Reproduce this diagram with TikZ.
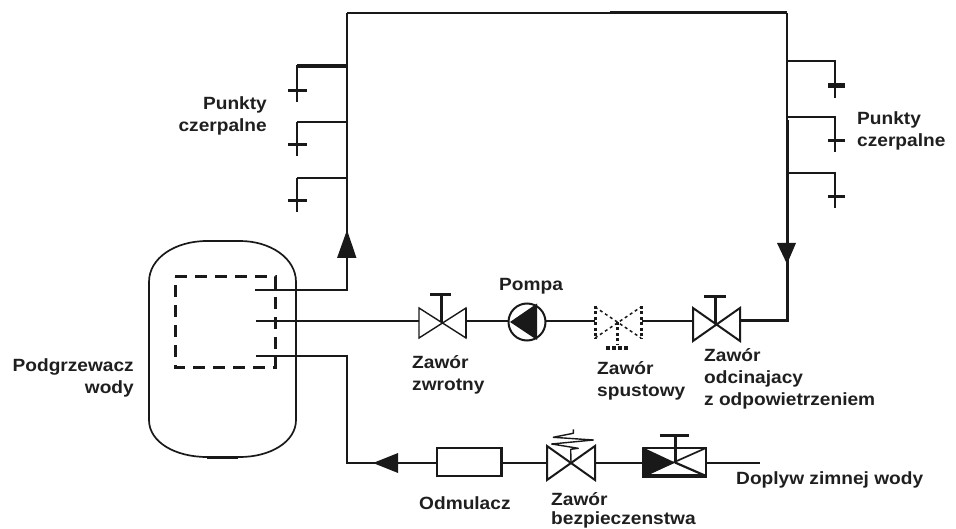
\documentclass[tikz,border=0pt]{standalone}
\usepackage{fontspec}
\setmainfont{Liberation Sans}[FakeStretch=1.08]
\tikzset{
  pipe/.style={draw=black!90,line width=1.7pt},
  thin pipe/.style={draw=black!90,line width=1.4pt},
  heavy/.style={draw=black!90,line width=3pt},
  lbl/.style={font=\fontsize{17.7}{22}\selectfont\bfseries,text=black!88,inner sep=0pt},
  tip/.style={fill=black!90,draw=none},
  valveline/.style={draw=black!90,line width=1.4pt,line join=miter},
}
\begin{document}
\begin{tikzpicture}[x=1pt,y=-1pt]
\useasboundingbox (0,0) rectangle (956,529);
% coordinates
\coordinate (topL) at (347,13);
\coordinate (topR) at (787,13);
\coordinate (retR) at (787,321);
\coordinate (outA) at (255,290);
\coordinate (outB) at (347,290);
\coordinate (inA) at (256,321);
\coordinate (coldA) at (256,356);
\coordinate (coldB) at (347,356);
\coordinate (coldC) at (347,463);
% tank
\draw[pipe] (149,282) .. controls (149,258) and (175,241) .. (207,241) -- (240,241) .. controls (270,241) and (296,258) .. (296,282)
  -- (296,420) .. controls (296,442) and (270,457) .. (240,457) -- (207,457) .. controls (175,457) and (149,442) .. (149,420) -- cycle;
\draw[draw=black!90,line width=3pt] (207,457) -- (238,457);
\draw[draw=black!90,line width=3pt,dash pattern=on 12pt off 8pt] (175,277) -- (275,277) -- (275,367) -- (175,367) -- cycle;
% main pipes
\draw[pipe] (outA) -- (outB) -- (topL);
\draw[pipe] (topL) -- (610,13);
\draw[heavy] (610,13) -- (topR);
\draw[pipe] (topR) -- (787,120);
\draw[heavy] (787,120) -- (retR) -- (741,321);
\draw[pipe] (inA) -- (419,321);
\draw[pipe] (466,321) -- (508,321);
\draw[pipe] (546,321) -- (595,321);
\draw[pipe] (642,321) -- (693,321);
\draw[pipe] (coldA) -- (coldB) -- (coldC) -- (437,463);
\draw[pipe] (502,463) -- (547,463);
\draw[pipe] (595,463) -- (643,463);
\draw[pipe] (706,463) -- (760,463);
% arrows
\fill[tip] (347,230) -- (356.5,258) -- (337,258) -- cycle;
\fill[tip] (787,264) -- (777,243) -- (796,243) -- cycle;
\fill[tip] (373,463) -- (398,453) -- (398,473) -- cycle;
% left draw-off points
\draw[heavy,line width=3.4pt] (347,66) -- (297,66);
\draw[pipe] (297,65) -- (297,102);
\draw[thin pipe] (347,122) -- (297,122);
\draw[pipe] (297,122) -- (297,156);
\draw[thin pipe] (347,178) -- (297,178);
\draw[pipe] (297,178) -- (297,212);
\foreach \y in {91,145,201} \draw[heavy,line width=3pt] (288,\y) -- (307,\y);
% right draw-off points
\draw[thin pipe] (787,61) -- (835,61) -- (835,98);
\draw[thin pipe] (787,117) -- (835,117) -- (835,152);
\draw[thin pipe] (787,173) -- (835,173) -- (835,208);
\draw[heavy,line width=5pt] (828,86) -- (845,86);
\draw[heavy] (828,141) -- (845,141);
\draw[heavy] (828,197) -- (845,197);
% non-return valve
\draw[valveline] (419,308) -- (466,338) -- (466,308) -- (419,338) -- cycle;
\draw[pipe] (466,308) -- (466,338);
\draw[heavy] (441.5,322) -- (441.5,295);
\draw[heavy] (430,295) -- (451,295);
% pump
\draw[pipe,line width=2pt] (527,322) circle (18.5);
\fill[tip] (510,322) -- (537,303.5) -- (537,340) -- cycle;
% drain valve (dotted)
\draw[draw=black!90,line width=1.5pt,dash pattern=on 3pt off 3pt] (595,307) -- (641,338);
\draw[draw=black!90,line width=1.5pt,dash pattern=on 3pt off 3pt] (595,338) -- (641,307);
\draw[draw=black!90,line width=3pt,dash pattern=on 3pt off 2.4pt] (595,306) -- (595,339);
\draw[draw=black!90,line width=3pt,dash pattern=on 3pt off 2.4pt] (641,306) -- (641,339);
\draw[draw=black!90,line width=2.6pt,dash pattern=on 3pt off 2.4pt] (617.5,322) -- (617.5,344);
\draw[draw=black!90,line width=4pt,dash pattern=on 4pt off 2pt] (606,348) -- (629,348);
% shut-off valve
\draw[valveline,line width=2pt] (693,308) -- (740,341) -- (740,308) -- (693,341) -- cycle;
\draw[heavy] (715,323) -- (715,297);
\draw[heavy] (704,297) -- (726,297);
% sludge separator
\draw[pipe] (437,448) rectangle (501,476);
\draw[heavy] (501,447) -- (501,477);
% safety valve
\draw[valveline,line width=2pt] (547,446) -- (595,480) -- (595,446) -- (547,480) -- cycle;
\draw[pipe] (595,446) -- (595,480);
\draw[draw=black!90,line width=1.4pt,line join=round] (571,463) -- (570.7,449.3) -- (578.3,448.3) -- (551.7,444) -- (593.3,440) -- (553.3,437.3) -- (573.3,433.3) -- (573.3,429.3);
% reducing/gate valve
\fill[tip] (642,447) -- (675,462.5) -- (642,478) -- cycle;
\draw[pipe] (643,448) -- (706,448) -- (706,476);
\draw[heavy,line width=3.4pt] (642,476) -- (707,476);
\draw[pipe] (643,476) -- (706,448);
\draw[pipe,line width=2.2pt] (675,462.5) -- (706,476);
\draw[heavy] (675,463) -- (675,436);
\draw[heavy] (660,435.3) -- (689,435.3);
% labels
\node[lbl,align=right,anchor=north east] at (267,96) (pl) {Punkty\\czerpalne};
\node[lbl,align=left,anchor=north west] at (857,111) (pr) {Punkty\\czerpalne};
\node[lbl,align=right,anchor=north east] at (134,358) (pw) {Podgrzewacz\\wody};
\node[lbl,anchor=north west] at (499,278) (pp) {Pompa};
\node[lbl,align=left,anchor=north west] at (412,355) (zz) {Zawór\\zwrotny};
\node[lbl,align=left,anchor=north west] at (597,361) (zs) {Zawór\\spustowy};
\node[lbl,align=left,anchor=north west] at (704,348.5) (zo) {Zawór\\odcinajacy\\z odpowietrzeniem};
\node[lbl,anchor=north west] at (419,496) (od) {Odmulacz};
\node[lbl,align=left,anchor=north west] at (551,492) (zb) {Zawór\\[-2.5pt]bezpieczenstwa};
\node[lbl,anchor=north west] at (736,471) (dz) {Doplyw zimnej wody};
\end{tikzpicture}
\end{document}
